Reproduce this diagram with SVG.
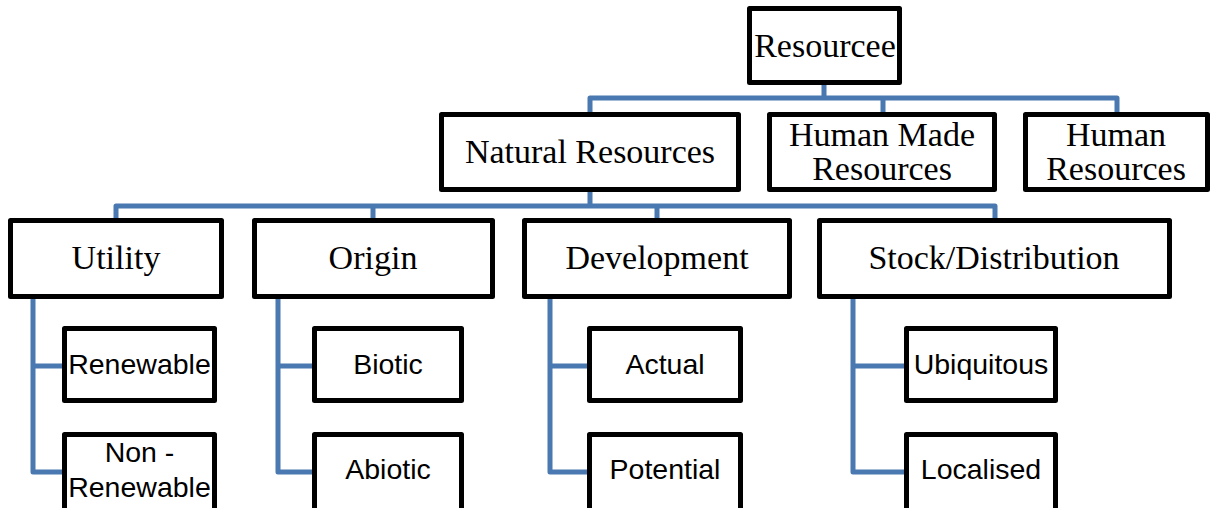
<svg xmlns="http://www.w3.org/2000/svg" width="1214" height="508" viewBox="0 0 1214 508">
<style>
.box{fill:#fff;stroke:#000;stroke-width:5;stroke-linejoin:round}
.con{fill:none;stroke:#4a78b0;stroke-width:5;stroke-linejoin:round}
.s{font-family:"Liberation Serif","Times New Roman",serif;font-size:34px;fill:#000;text-anchor:middle}
.a{font-family:"Liberation Sans",Arial,sans-serif;font-size:28.5px;fill:#000;text-anchor:middle}
</style>
<rect width="1214" height="508" fill="#fff"/>
<g id="connectors">
<path class="con" d="M824 85V98M590 112V98H1117V112M883 98V112"/>
<path class="con" d="M590 192V206M116 218V206H995V218M373 206V218M657 206V218"/>
<path class="con" d="M33 299V472H64M33 366H64"/>
<path class="con" d="M278 298V472H314M278 366H314"/>
<path class="con" d="M550 298V472H589M550 366H589"/>
<path class="con" d="M853 298V472H906M853 366H906"/>
</g>
<g id="resourcee"><rect class="box" x="749.5" y="8.5" width="150" height="74"/><text class="s" x="825" y="57">Resourcee</text></g>
<g id="natural"><rect class="box" x="441.5" y="114.5" width="297" height="75"/><text class="s" x="590" y="163">Natural Resources</text></g>
<g id="humanmade"><rect class="box" x="769.5" y="114.5" width="225" height="75"/><text class="s" x="882" y="146">Human Made</text><text class="s" x="882" y="180">Resources</text></g>
<g id="human"><rect class="box" x="1025.5" y="114.5" width="182" height="75"/><text class="s" x="1116" y="146">Human</text><text class="s" x="1116" y="180">Resources</text></g>
<g id="utility"><rect class="box" x="10.5" y="220.5" width="211" height="76"/><text class="s" x="116" y="269">Utility</text></g>
<g id="origin"><rect class="box" x="254.5" y="220.5" width="238" height="76"/><text class="s" x="373" y="269">Origin</text></g>
<g id="development"><rect class="box" x="524.5" y="220.5" width="265" height="76"/><text class="s" x="657" y="269">Development</text></g>
<g id="stock"><rect class="box" x="819.5" y="220.5" width="350" height="76"/><text class="s" x="994" y="269">Stock/Distribution</text></g>
<g id="renewable"><rect class="box" x="64.5" y="328.5" width="150" height="72"/><text class="a" x="139.5" y="374">Renewable</text></g>
<g id="nonrenewable"><rect class="box" x="64.5" y="434.5" width="150" height="80"/><text class="a" x="139.5" y="462">Non -</text><text class="a" x="139.5" y="497">Renewable</text></g>
<g id="biotic"><rect class="box" x="314.5" y="328.5" width="147" height="72"/><text class="a" x="388" y="374">Biotic</text></g>
<g id="abiotic"><rect class="box" x="314.5" y="434.5" width="147" height="80"/><text class="a" x="388" y="479">Abiotic</text></g>
<g id="actual"><rect class="box" x="589.5" y="328.5" width="151" height="72"/><text class="a" x="665" y="374">Actual</text></g>
<g id="potential"><rect class="box" x="589.5" y="434.5" width="151" height="80"/><text class="a" x="665" y="479">Potential</text></g>
<g id="ubiquitous"><rect class="box" x="906.5" y="328.5" width="149" height="72"/><text class="a" x="981" y="374">Ubiquitous</text></g>
<g id="localised"><rect class="box" x="906.5" y="434.5" width="149" height="80"/><text class="a" x="981" y="479">Localised</text></g>
</svg>
